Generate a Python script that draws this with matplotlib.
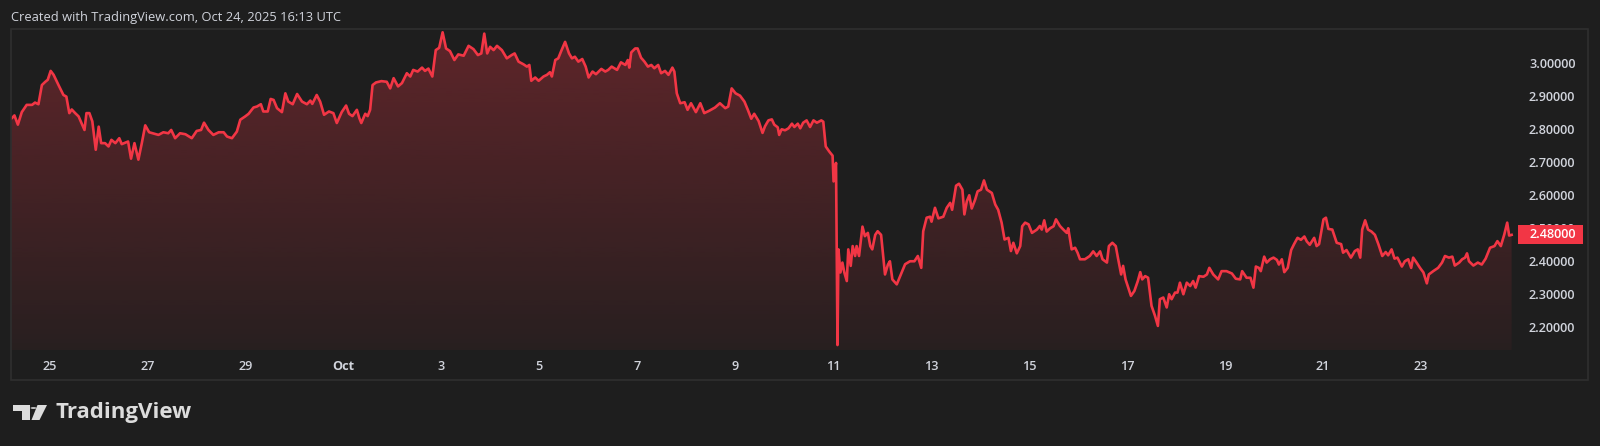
import numpy as np
import matplotlib
matplotlib.use("Agg")
import matplotlib.pyplot as plt
from matplotlib.patches import Rectangle, Polygon, Circle
from matplotlib.transforms import blended_transform_factory

# ---------------- data (days from Oct 1 00:00, price) ----------------
days = [
    -6.80, -6.76, -6.71, -6.64, -6.56, -6.46, -6.35, -6.29, -6.22, -6.15, -6.08, -6.03,
    -5.97, -5.91, -5.81, -5.71, -5.65, -5.59, -5.54, -5.47, -5.40, -5.28, -5.24, -5.18,
    -5.12, -5.05, -4.99, -4.94, -4.86, -4.79, -4.73, -4.65, -4.57, -4.52, -4.39, -4.33,
    -4.26, -4.18, -4.11, -4.04, -3.96, -3.77, -3.67, -3.57, -3.51, -3.43, -3.33, -3.22,
    -3.09, -2.99, -2.90, -2.84, -2.75, -2.65, -2.54, -2.44, -2.37, -2.27, -2.17, -2.10,
    -2.00, -1.93, -1.83, -1.76, -1.68, -1.63, -1.54, -1.48, -1.42, -1.35, -1.25, -1.18,
    -1.12, -1.03, -0.94, -0.84, -0.74, -0.67, -0.63, -0.54, -0.47, -0.39, -0.29, -0.20,
    -0.13, -0.03, 0.06, 0.12, 0.19, 0.28, 0.33, 0.37, 0.45, 0.50, 0.55, 0.60,
    0.67, 0.78, 0.89, 0.96, 1.03, 1.12, 1.20, 1.30, 1.37, 1.43, 1.52, 1.61,
    1.67, 1.74, 1.82, 1.89, 1.96, 2.03, 2.10, 2.18, 2.27, 2.35, 2.46, 2.56,
    2.66, 2.75, 2.82, 2.88, 2.94, 3.00, 3.07, 3.14, 3.24, 3.34, 3.44, 3.50,
    3.58, 3.68, 3.75, 3.80, 3.84, 3.92, 3.99, 4.09, 4.16, 4.22, 4.26, 4.33,
    4.39, 4.45, 4.53, 4.61, 4.67, 4.73, 4.80, 4.88, 4.95, 5.01, 5.09, 5.16,
    5.27, 5.35, 5.41, 5.48, 5.59, 5.67, 5.76, 5.81, 5.84, 5.88, 5.96, 6.01,
    6.08, 6.15, 6.22, 6.29, 6.35, 6.43, 6.49, 6.57, 6.64, 6.72, 6.76, 6.81,
    6.88, 6.97, 7.03, 7.10, 7.20, 7.29, 7.37, 7.47, 7.59, 7.69, 7.80, 7.86,
    7.93, 8.01, 8.10, 8.19, 8.26, 8.33, 8.39, 8.48, 8.56, 8.61,
    8.68, 8.75, 8.80, 8.87, 8.90, 8.95, 9.02, 9.09, 9.16, 9.21, 9.28, 9.33,
    9.39, 9.46, 9.53, 9.60, 9.67, 9.76, 9.80, 9.85, 9.92, 9.99, 10.01, 10.06,
    10.09, 10.11, 10.15, 10.19, 10.23, 10.28, 10.31, 10.36, 10.40, 10.45, 10.48, 10.53,
    10.60, 10.65, 10.71, 10.76, 10.80, 10.86, 10.91, 10.98, 11.06, 11.12, 11.16, 11.21,
    11.30, 11.40, 11.47, 11.57, 11.66, 11.73, 11.80, 11.84, 11.91, 11.98, 12.01, 12.08,
    12.15, 12.25, 12.32, 12.39, 12.43, 12.51, 12.57, 12.64, 12.68, 12.73, 12.78, 12.83,
    12.90, 12.95, 13.02, 13.08, 13.14, 13.24, 13.31, 13.37, 13.44, 13.50, 13.58, 13.63,
    13.68,
    13.75, 13.82, 13.86, 13.92, 13.99, 14.06, 14.16, 14.22, 14.26, 14.31, 14.36, 14.43,
    14.50, 14.55, 14.63, 14.70, 14.77, 14.80, 14.87, 14.94, 14.99, 15.04, 15.14, 15.24,
    15.31, 15.38, 15.45, 15.50, 15.59, 15.63, 15.70, 15.77, 15.82, 15.88, 15.92, 15.97,
    16.08, 16.15, 16.22, 16.27, 16.31, 16.37, 16.43, 16.50, 16.57, 16.63, 16.67, 16.74,
    16.81, 16.86, 16.91, 16.98, 17.03, 17.08, 17.15, 17.22, 17.29, 17.35, 17.40, 17.47,
    17.56, 17.63, 17.68, 17.76, 17.86, 17.93, 18.03, 18.14, 18.22, 18.31, 18.35, 18.44,
    18.52, 18.58, 18.63, 18.69, 18.73, 18.80,
    18.85, 18.92, 18.99, 19.06, 19.10, 19.16, 19.21, 19.28, 19.35, 19.41, 19.48, 19.55,
    19.62, 19.67, 19.73, 19.82, 19.87, 19.92, 20.01, 20.06, 20.11, 20.19, 20.28, 20.37,
    20.41, 20.48, 20.57, 20.65, 20.71, 20.76, 20.80, 20.86, 20.92, 20.99, 21.06, 21.13,
    21.21, 21.28, 21.33, 21.40, 21.46, 21.52, 21.61, 21.67, 21.74, 21.80, 21.84, 21.91,
    21.98, 22.05, 22.12, 22.16, 22.25, 22.35, 22.43, 22.49, 22.57, 22.64, 22.69, 22.78,
    22.84, 22.90, 22.94, 22.98, 23.07, 23.16, 23.24, 23.32, 23.41, 23.50, 23.56, 23.63,
    23.70, 23.76, 23.80, 23.85,
]
price = [
    2.830, 2.834, 2.842, 2.814, 2.852, 2.874, 2.874, 2.881, 2.876, 2.934, 2.944, 2.950,
    2.977, 2.965, 2.934, 2.904, 2.899, 2.849, 2.860, 2.849, 2.839, 2.798, 2.849, 2.849,
    2.824, 2.738, 2.808, 2.758, 2.758, 2.748, 2.768, 2.758, 2.773, 2.755, 2.763, 2.711,
    2.758, 2.708, 2.758, 2.812, 2.791, 2.783, 2.791, 2.788, 2.798, 2.773, 2.788, 2.785,
    2.773, 2.795, 2.798, 2.820, 2.798, 2.783, 2.791, 2.791, 2.778, 2.773, 2.793, 2.829,
    2.839, 2.847, 2.866, 2.869, 2.876, 2.854, 2.854, 2.892, 2.889, 2.864, 2.852, 2.909,
    2.884, 2.876, 2.907, 2.884, 2.876, 2.887, 2.877, 2.904, 2.884, 2.844, 2.854, 2.849,
    2.819, 2.852, 2.872, 2.847, 2.840, 2.859, 2.834, 2.819, 2.847, 2.840, 2.859, 2.934,
    2.942, 2.946, 2.944, 2.924, 2.955, 2.930, 2.940, 2.970, 2.960, 2.980, 2.975, 2.987,
    2.977, 2.984, 2.960, 3.040, 3.047, 3.094, 3.045, 3.037, 3.010, 3.027, 3.023, 3.053,
    3.043, 3.025, 3.030, 3.090, 3.030, 3.050, 3.040, 3.053, 3.040, 3.015, 3.025, 3.030,
    3.005, 2.997, 2.990, 2.995, 2.947, 2.957, 2.947, 2.960, 2.965, 2.973, 2.960, 3.010,
    3.015, 3.037, 3.065, 3.030, 3.015, 3.020, 3.005, 3.013, 2.990, 2.957, 2.975, 2.967,
    2.983, 2.975, 2.980, 2.990, 2.980, 3.003, 2.995, 3.010, 2.987, 3.033, 3.045, 3.045,
    3.017, 3.005, 2.990, 2.995, 2.985, 2.995, 2.970, 2.977, 2.965, 2.987, 2.975, 2.909,
    2.879, 2.882, 2.859, 2.879, 2.852, 2.879, 2.849, 2.856, 2.866, 2.879, 2.864, 2.869,
    2.924, 2.909, 2.902, 2.884, 2.859, 2.832, 2.847, 2.825, 2.789, 2.809,
    2.827, 2.830, 2.814, 2.806, 2.783, 2.800, 2.797, 2.803, 2.817, 2.807, 2.817, 2.803,
    2.820, 2.827, 2.807, 2.827, 2.820, 2.827, 2.823, 2.748, 2.733, 2.720, 2.642, 2.698,
    2.146, 2.436, 2.366, 2.396, 2.366, 2.340, 2.436, 2.386, 2.446, 2.416, 2.446, 2.416,
    2.505, 2.476, 2.486, 2.446, 2.436, 2.480, 2.491, 2.480, 2.360, 2.390, 2.400, 2.345,
    2.330, 2.366, 2.391, 2.400, 2.400, 2.416, 2.380, 2.491, 2.532, 2.535, 2.520, 2.562,
    2.530, 2.535, 2.562, 2.577, 2.556, 2.629, 2.635, 2.617, 2.542, 2.582, 2.600, 2.560,
    2.587, 2.612, 2.617, 2.645, 2.617, 2.607, 2.572, 2.556, 2.517, 2.466, 2.471, 2.431,
    2.456,
    2.424, 2.446, 2.506, 2.517, 2.512, 2.486, 2.496, 2.507, 2.496, 2.524, 2.490, 2.500,
    2.506, 2.527, 2.507, 2.496, 2.486, 2.500, 2.436, 2.441, 2.426, 2.406, 2.406, 2.416,
    2.430, 2.416, 2.430, 2.406, 2.396, 2.446, 2.456, 2.446, 2.406, 2.360, 2.386, 2.345,
    2.295, 2.310, 2.340, 2.367, 2.345, 2.355, 2.350, 2.265, 2.235, 2.204, 2.285, 2.290,
    2.260, 2.300, 2.285, 2.305, 2.305, 2.335, 2.300, 2.335, 2.325, 2.340, 2.320, 2.355,
    2.353, 2.360, 2.380, 2.360, 2.345, 2.370, 2.370, 2.363, 2.347, 2.345, 2.370, 2.350,
    2.350, 2.320, 2.384, 2.380, 2.370, 2.414,
    2.396, 2.406, 2.411, 2.404, 2.390, 2.406, 2.367, 2.380, 2.434, 2.452, 2.471, 2.465,
    2.475, 2.460, 2.450, 2.471, 2.446, 2.452, 2.527, 2.532, 2.498, 2.496, 2.456, 2.452,
    2.426, 2.434, 2.411, 2.431, 2.436, 2.411, 2.496, 2.524, 2.496, 2.490, 2.480, 2.452,
    2.416, 2.428, 2.418, 2.436, 2.408, 2.411, 2.384, 2.400, 2.406, 2.380, 2.411, 2.396,
    2.380, 2.366, 2.333, 2.360, 2.370, 2.380, 2.396, 2.416, 2.411, 2.414, 2.387, 2.396,
    2.406, 2.411, 2.424, 2.400, 2.387, 2.396, 2.390, 2.408, 2.441, 2.446, 2.461, 2.446,
    2.481, 2.517, 2.478, 2.480,
]
tick_days = [-6, -4, -2, 0, 2, 4, 6, 8, 10, 12, 14, 16, 18, 20, 22]
tick_labels = ["25", "27", "29", "Oct", "3", "5", "7", "9", "11", "13", "15", "17", "19", "21", "23"]
price_ticks = [2.2, 2.3, 2.4, 2.5, 2.6, 2.7, 2.8, 2.9, 3.0]
last_price = 2.48
title = "Created with TradingView.com, Oct 24, 2025 16:13 UTC"

# ---------------- style ----------------
W, H = 1600, 446
BG = "#1e1e1e"
TXT = "#d1d4dc"
RED = "#f23645"
FONT = "Open Sans"
plt.rcParams["font.family"] = [FONT, "DejaVu Sans"]

fig = plt.figure(figsize=(W / 100, H / 100), dpi=100, facecolor=BG)

def fx(x):
    return x / W

def fy(y):
    return 1 - y / H

# pane: x 11..1517, y 29..350 (pixels)
ax = fig.add_axes([fx(11), fy(350), (1517 - 11) / W, (350 - 29) / H])
ax.set_facecolor(BG)
XL = (-6.78, 23.96)
YL = (2.131, 3.104)

# gradient area fill
verts = [(days[0], YL[0])] + list(zip(days, price)) + [(days[-1], YL[0])]
clip = Polygon(verts, closed=True, facecolor="none", edgecolor="none", transform=ax.transData)
ax.add_patch(clip)
n = 256
alpha = np.linspace(0.05, 0.31, n)
rgba = np.zeros((n, 1, 4))
rgba[:, 0, 0] = 242 / 255
rgba[:, 0, 1] = 54 / 255
rgba[:, 0, 2] = 69 / 255
rgba[:, 0, 3] = alpha
im = ax.imshow(rgba, extent=[XL[0], XL[1], YL[0], YL[1]], origin="lower",
               aspect="auto", zorder=1, interpolation="bilinear")
im.set_clip_path(clip)

ax.plot(days, price, color=RED, lw=1.9, zorder=3, solid_joinstyle="round")

ax.set_xlim(*XL)
ax.set_ylim(*YL)
for s in ax.spines.values():
    s.set_visible(False)

ax.set_xticks(tick_days)
ax.set_xticklabels(tick_labels)
ax.yaxis.tick_right()
ax.set_yticks(price_ticks)
ax.set_yticklabels([f"{p:.5f}" for p in price_ticks])
ax.tick_params(axis="both", length=0, colors=TXT, labelsize=9.1)
ax.tick_params(axis="x", pad=7.0)
ax.tick_params(axis="y", pad=8.6)
for lab in ax.get_xticklabels():
    lab.set_fontweight("semibold")
    if lab.get_text() == "Oct":
        lab.set_fontweight("bold")
for lab in ax.get_yticklabels():
    lab.set_fontweight("semibold")

# last price tag (covers the lower part of the 2.50000 label, as in the original)
trans = blended_transform_factory(fig.transFigure, ax.transData)
tag_h = 19 / 330
ax.add_patch(Rectangle((fx(1518), last_price - tag_h / 2), (1583 - 1518) / W, tag_h,
                       transform=trans, facecolor=RED, edgecolor="none",
                       clip_on=False, zorder=5))
ax.text(fx(1529), last_price, f"{last_price:.5f}", transform=trans, color="white",
        fontsize=9.1, fontweight="semibold", va="center", ha="left", zorder=6, clip_on=False)

# outer frame
fig.patches.append(Rectangle((fx(11), fy(379.5)), (1588 - 11) / W, (379.5 - 29) / H,
                             transform=fig.transFigure, fill=False,
                             edgecolor="#2f2f2f", lw=1.2))

# title
fig.text(fx(11), fy(17), title, color=TXT, fontsize=9.3, va="center", ha="left")

# logo
LOGO = "#dcdcdc"
fig.patches.append(Rectangle((fx(13.3), fy(410.7)), (30 - 13.3) / W, (410.7 - 405) / H,
                             transform=fig.transFigure, facecolor=LOGO, edgecolor="none"))
fig.patches.append(Rectangle((fx(21.5), fy(420)), (30 - 21.5) / W, (420 - 405) / H,
                             transform=fig.transFigure, facecolor=LOGO, edgecolor="none"))
fig.patches.append(Circle((fx(33.5), fy(408)), 3.0 / W, transform=fig.transFigure,
                          facecolor=LOGO, edgecolor="none"))
fig.patches.append(Polygon([(fx(37.5), fy(405)), (fx(47), fy(405)), (fx(39.5), fy(420)),
                            (fx(31.5), fy(420))], closed=True, transform=fig.transFigure,
                           facecolor=LOGO, edgecolor="none"))
fig.text(fx(55), fy(418), "TradingView", color=LOGO, fontsize=16,
         fontweight="bold", va="baseline", ha="left")

fig.savefig("out.png", dpi=100, facecolor=BG)
